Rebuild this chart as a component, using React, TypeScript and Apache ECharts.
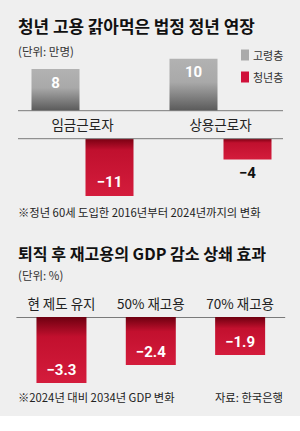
import React, { useEffect, useRef } from "react";
import * as echarts from "echarts";

const workerCats = ["임금근로자", "상용근로자"];
const seniorValues = [8, 10];
const youthValues = [-11, -4];
const gdpCats = ["현 제도 유지", "50% 재고용", "70% 재고용"];
const gdpValues = [-3.3, -2.4, -1.9];

const KR = "'Noto Sans CJK KR', 'Noto Sans', sans-serif";
const NUM = "Roboto, 'Liberation Sans', sans-serif";

const minus = (v: number) => String(v).replace("-", "\u2212");

const grayGrad = new echarts.graphic.LinearGradient(0, 0, 0, 1, [
  { offset: 0, color: "#b2b2b2" },
  { offset: 0.45, color: "#a9a9a9" },
  { offset: 1, color: "#5a5a5a" },
]);
const redGradTop = new echarts.graphic.LinearGradient(0, 0, 0, 1, [
  { offset: 0, color: "#7a0012" },
  { offset: 0.2, color: "#c0102e" },
  { offset: 1, color: "#d41c3c" },
]);
const redGradBottom = new echarts.graphic.LinearGradient(0, 0, 0, 1, [
  { offset: 0, color: "#6e0010" },
  { offset: 0.3, color: "#c2102e" },
  { offset: 1, color: "#d41c3c" },
]);

export default function App() {
  const ref = useRef<HTMLDivElement>(null);
  useEffect(() => {
    if (!ref.current) return;
    const chart = echarts.init(ref.current, null, { renderer: "svg" });
    const nulls = workerCats.map(() => null);
    const option: any = {
      animation: false,
      backgroundColor: "#ffffff",
      title: [
        {
          text: "청년 고용 갉아먹은 법정 정년 연장",
          left: 18, top: 15, padding: 0,
          textStyle: { fontFamily: KR, fontSize: 16.9, fontWeight: "bold", color: "#111", lineHeight: 20 },
        },
        {
          text: "(단위: 만명)",
          left: 18, top: 44, padding: 0,
          textStyle: { fontFamily: KR, fontSize: 11.5, fontWeight: "normal", color: "#333", lineHeight: 14 },
        },
        {
          text: "※정년 60세 도입한 2016년부터 2024년까지의 변화",
          left: 18, top: 205.5, padding: 0,
          textStyle: { fontFamily: KR, fontSize: 11.3, fontWeight: "normal", color: "#222", lineHeight: 13 },
        },
        {
          text: "퇴직 후 재고용의 GDP 감소 상쇄 효과",
          left: 18, top: 243, padding: 0,
          textStyle: { fontFamily: KR, fontSize: 16.1, fontWeight: "bold", color: "#111", lineHeight: 20 },
        },
        {
          text: "(단위: %)",
          left: 18, top: 268, padding: 0,
          textStyle: { fontFamily: KR, fontSize: 11.5, fontWeight: "normal", color: "#333", lineHeight: 14 },
        },
        {
          text: "※2024년 대비 2034년 GDP 변화",
          left: 18, top: 390.5, padding: 0,
          textStyle: { fontFamily: KR, fontSize: 11.3, fontWeight: "normal", color: "#222", lineHeight: 13 },
        },
        {
          text: "자료: 한국은행",
          right: 17, top: 390.5, padding: 0,
          textStyle: { fontFamily: KR, fontSize: 11.3, fontWeight: "normal", color: "#222", lineHeight: 13 },
        },
      ],
      legend: {
        orient: "vertical",
        left: 241, top: 49, padding: 0,
        itemWidth: 8, itemHeight: 11, itemGap: 10,
        textStyle: { fontFamily: KR, fontSize: 11, color: "#333", lineHeight: 12, padding: [0, 0, 0, -1] },
        data: [
          { name: "고령층", icon: "rect", itemStyle: { color: "#aaaaaa" } },
          { name: "청년층", icon: "rect", itemStyle: { color: "#d0103a" } },
        ],
        selectedMode: false,
      },
      graphic: [
        { type: "rect", z: -10, silent: true, shape: { x: 0, y: 0, width: 300, height: 416 }, style: { fill: "#efefef" } },
        { type: "line", z: 10, silent: true, shape: { x1: 18, y1: 110.7, x2: 283, y2: 110.7 }, style: { stroke: "#7a7a7a", lineWidth: 1 } },
        { type: "line", z: 10, silent: true, shape: { x1: 18, y1: 138.7, x2: 283, y2: 138.7 }, style: { stroke: "#7a7a7a", lineWidth: 1 } },
      ],
      grid: [
        { left: 13.5, width: 276, top: 48.3, height: 62.4 },
        { left: 13.5, width: 276, top: 138.7, height: 62.4 },
        { left: 16.8, width: 268, top: 317, height: 80 },
      ],
      xAxis: [
        {
          type: "category", gridIndex: 0, data: workerCats,
          axisLine: { show: false }, axisTick: { show: false },
          axisLabel: { fontFamily: KR, fontSize: 13.5, color: "#222", margin: 7 },
        },
        {
          type: "category", gridIndex: 1, data: workerCats,
          axisLine: { show: false }, axisTick: { show: false }, axisLabel: { show: false },
        },
        {
          type: "category", gridIndex: 2, data: gdpCats, position: "top",
          axisLine: { show: true, lineStyle: { color: "#7a7a7a", width: 1 } },
          axisTick: { show: false },
          axisLabel: { fontFamily: KR, fontSize: 13.5, color: "#222", margin: 7 },
        },
      ],
      yAxis: [
        { type: "value", gridIndex: 0, min: 0, max: 12, show: false },
        { type: "value", gridIndex: 1, min: -12, max: 0, show: false },
        { type: "value", gridIndex: 2, min: -4, max: 0, show: false },
      ],
      series: [
        {
          name: "고령층", type: "bar", xAxisIndex: 0, yAxisIndex: 0,
          data: seniorValues, barWidth: 48, barGap: "12.5%",
          itemStyle: { color: grayGrad },
          label: {
            show: true, position: "insideTop", distance: 6,
            fontFamily: NUM, fontWeight: "bold", fontSize: 15, color: "#ffffff",
            formatter: (p: any) => minus(p.value),
          },
        },
        {
          name: "청년층", type: "bar", xAxisIndex: 0, yAxisIndex: 0,
          data: nulls, barWidth: 48, barGap: "12.5%",
          itemStyle: { color: "#d0103a" },
        },
        {
          name: "고령층", type: "bar", xAxisIndex: 1, yAxisIndex: 1,
          data: nulls, barWidth: 48, barGap: "12.5%",
          itemStyle: { color: "#aaaaaa" },
        },
        {
          name: "청년층", type: "bar", xAxisIndex: 1, yAxisIndex: 1,
          barWidth: 48, barGap: "12.5%",
          itemStyle: { color: redGradTop },
          data: youthValues.map((v) => {
            const inside = Math.abs(v) > 6;
            return {
              value: v,
              label: inside
                ? { position: "insideBottom", distance: 6, color: "#ffffff" }
                : { position: "bottom", distance: 6, color: "#111111" },
            };
          }),
          label: {
            show: true,
            fontFamily: NUM, fontWeight: "bold", fontSize: 15,
            formatter: (p: any) => minus(p.value),
          },
        },
        {
          name: "재고용", type: "bar", xAxisIndex: 2, yAxisIndex: 2,
          data: gdpValues, barWidth: 50,
          itemStyle: { color: redGradBottom },
          label: {
            show: true, position: "insideBottom", distance: 6,
            fontFamily: NUM, fontWeight: "bold", fontSize: 15, color: "#ffffff",
            formatter: (p: any) => minus(p.value),
          },
        },
      ],
    };
    chart.setOption(option);
    return () => chart.dispose();
  }, []);
  return (
    <div
      ref={ref}
      style={{ position: "fixed", left: 0, top: 0, width: 300, height: 431 }}
    />
  );
}
